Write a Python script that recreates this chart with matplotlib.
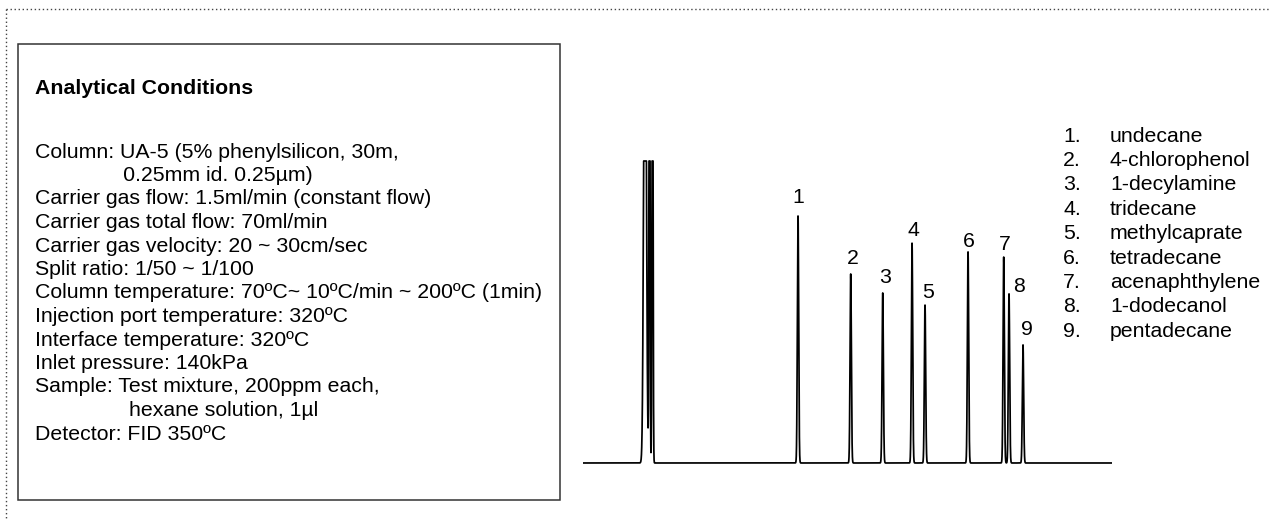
import numpy as np
import matplotlib
matplotlib.use("Agg")
import matplotlib.pyplot as plt
from matplotlib.patches import Rectangle

plt.rcParams['font.family'] = ['Liberation Sans', 'DejaVu Sans']

# retention times (min) and heights (% of full scale, solvent goes off scale)
solvent_rt = [1.524, 1.634, 1.708]
solvent_height = [200, 200, 200]
solvent_width = [0.03, 0.012, 0.012]
peak_rt = [5.284, 6.579, 7.366, 8.086, 8.405, 9.462, 10.339, 10.469, 10.813]
peak_height = [81.8, 62.6, 56.3, 72.8, 52.3, 69.9, 68.2, 56.0, 39.1]
peak_labels = ["1", "2", "3", "4", "5", "6", "7", "8", "9"]
compounds = ["undecane", "4-chlorophenol", "1-decylamine", "tridecane",
             "methylcaprate", "tetradecane", "acenaphthylene", "1-dodecanol",
             "pentadecane"]

title = "Analytical Conditions"
conditions = [
    "Column: UA-5 (5% phenylsilicon, 30m,",
    "               0.25mm id. 0.25µm)",
    "Carrier gas flow: 1.5ml/min (constant flow)",
    "Carrier gas total flow: 70ml/min",
    "Carrier gas velocity: 20 ~ 30cm/sec",
    "Split ratio: 1/50 ~ 1/100",
    "Column temperature: 70ºC~ 10ºC/min ~ 200ºC (1min)",
    "Injection port temperature: 320ºC",
    "Interface temperature: 320ºC",
    "Inlet pressure: 140kPa",
    "Sample: Test mixture, 200ppm each,",
    "                hexane solution, 1µl",
    "Detector: FID 350ºC",
]

# label offsets above peak apex, pixels
label_dx = [0, 2, 2, 1, 3, 1, 1, 10, 4]
label_dy = [12.5, 9.5, 9.5, 7.5, 7.5, 4.5, 7.5, 1.5, 9.5]

fs = 15.3

fig = plt.figure(figsize=(12.7, 5.2), dpi=100)

# background layer in pixel coordinates
bg = fig.add_axes([0, 0, 1, 1])
bg.set_xlim(0, 1270)
bg.set_ylim(520, 0)
bg.axis("off")

bg.plot([6, 1270], [9, 9], color="#444444", lw=1, linestyle=(0, (1, 1.9)))
bg.plot([6, 6], [9, 520], color="#444444", lw=1, linestyle=(0, (1, 1.9)))
bg.add_patch(Rectangle((18, 44), 542, 456, fill=False, edgecolor="#333333", lw=1.1))

bg.text(35, 87 + 7.5, title, fontsize=fs, fontweight="bold", va="baseline")
for i, line in enumerate(conditions):
    bg.text(35, 150 + i * 23.5 + 7.5, line, fontsize=fs, va="baseline")

for i, name in enumerate(compounds):
    y = 134 + i * 24.4 + 7.5
    bg.text(1063, y, f"{i + 1}.", fontsize=fs, va="baseline")
    bg.text(1110, y, name, fontsize=fs, va="baseline")

# chromatogram
t = np.linspace(0, 13, 13001)
sig = np.zeros_like(t)
for rt, h, w in zip(solvent_rt, solvent_height, solvent_width):
    sig += h * np.exp(-0.5 * ((t - rt) / w) ** 2)
for rt, h in zip(peak_rt, peak_height):
    sig += h * np.exp(-0.5 * ((t - rt) / 0.016) ** 2)
sig = np.minimum(sig, 100)

ax = fig.add_axes([583 / 1270, 0.0806, 529 / 1270, 0.6388])
ax.patch.set_visible(False)
ax.plot(t, sig, color="black", lw=1.25)
ax.set_xlim(0, 13)
ax.set_ylim(-5, 105)
ax.axis("off")

for lab, rt, h, dx, dy in zip(peak_labels, peak_rt, peak_height, label_dx, label_dy):
    ax.annotate(lab, (rt, h), xytext=(dx, dy), textcoords="offset pixels",
                ha="center", va="baseline", fontsize=fs)

fig.savefig("out.png", dpi=100)
